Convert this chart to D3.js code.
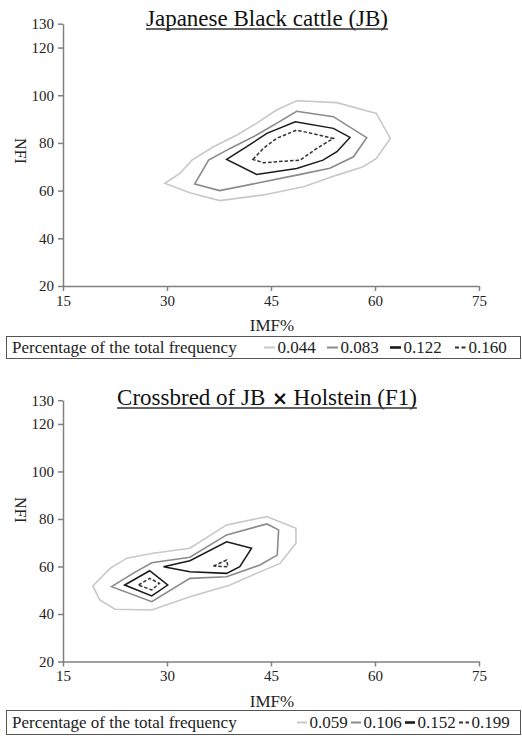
<!DOCTYPE html>
<html><head><meta charset="utf-8">
<script src="https://cdn.jsdelivr.net/npm/d3@7"></script>
<style>
html,body{margin:0;padding:0;background:#fff;}
svg{display:block;font-family:"Liberation Serif","Times New Roman",serif;}
</style></head>
<body><svg id="c" width="522" height="742"></svg>
<script>
// ---------- data ----------
const xTicks = [15, 30, 45, 60, 75];
const yTicks = [20, 40, 60, 80, 100, 120, 130];
const xLabel = "IMF%";
const yLabel = "NFI";
const legendTitle = "Percentage of the total frequency";

const titleJB = ["Japanese Black cattle (JB)"];
const levelsJB = ["0.044", "0.083", "0.122", "0.160"];
const jb_044 = [[29.7,63.1],[31.9,67.3],[33.6,72.8],[36.7,78.4],[40.1,83.3],[42.9,88.2],[45.8,93.8],[48.7,97.7],[54.5,96.9],[60.2,92.4],[62.2,81.9],[60.2,73.5],[58.3,70.0],[54.5,66.5],[49.7,61.6],[43.9,58.2],[37.6,55.8],[33.3,59.1]];
const jb_083 = [[34.0,62.8],[36.0,72.8],[39.1,77.7],[42.9,83.3],[45.8,88.2],[48.7,93.3],[54.0,91.0],[58.8,82.2],[56.9,74.2],[53.5,69.4],[48.7,66.5],[42.9,63.1],[37.6,60.0]];
const jb_122 = [[38.6,73.1],[41.5,78.4],[44.4,84.0],[48.5,88.9],[54.0,86.1],[56.4,82.3],[54.5,76.3],[52.5,72.8],[48.7,69.3],[42.9,66.8]];
const jb_160 = [[42.4,73.1],[43.9,77.7],[45.8,81.9],[48.7,85.4],[54.0,81.9],[51.6,77.7],[49.2,72.8],[43.9,71.7]];

const titleF1 = ["Crossbred of JB", "\u00d7", "Holstein (F1)"];
const levelsF1 = ["0.059", "0.106", "0.152", "0.199"];
const f1_059 = [[19.3,51.8],[21.8,59.2],[24.2,63.5],[28.0,65.6],[33.3,67.7],[38.6,77.5],[44.4,81.0],[48.6,76.1],[48.6,69.8],[46.3,61.3],[42.9,57.1],[39.1,52.2],[33.3,47.3],[27.8,41.7],[22.5,42.0],[20.3,45.9]];
const f1_106 = [[22.0,51.5],[25.1,57.1],[27.8,61.6],[33.3,63.9],[38.6,73.3],[44.4,77.9],[46.1,75.4],[45.9,64.8],[43.4,60.6],[38.6,55.7],[33.3,55.0],[27.8,45.2]];
const f1_152a = [[23.9,52.2],[27.5,58.2],[30.1,52.2],[27.8,47.6]];
const f1_152b = [[29.5,59.9],[33.3,62.4],[38.6,70.4],[42.2,67.7],[40.5,59.9],[38.6,57.1],[33.3,57.8]];
const f1_199a = [[25.9,52.2],[27.5,55.0],[28.9,52.9],[27.8,50.1]];
const f1_199b = [[36.7,60.2],[38.6,62.7],[38.8,59.9]];

// ---------- styles ----------
const FONT = "'Liberation Serif', 'Times New Roman', serif";
const styles = [
  {stroke:"#c8c8c8", width:1.6, dash:null},
  {stroke:"#8a8a8a", width:1.6, dash:null},
  {stroke:"#1a1a1a", width:1.5, dash:null},
  {stroke:"#333333", width:1.5, dash:"3.5,2"}
];

const svg = d3.select("#c");

function panel(opts){
  const g = svg.append("g").attr("font-family", FONT);
  const x = d3.scaleLinear().domain([15,75]).range([63,479]);
  const y = d3.scaleLinear().domain([20,130]).range([opts.y20, opts.y130]);

  // title
  const t = g.append("text").attr("x",267).attr("y",opts.titleY)
    .attr("text-anchor","middle").attr("font-size",23).attr("fill","#111");
  opts.title.forEach((part,i)=>{
    const ts = t.append("tspan").text((i>0?" ":"") + part);
    if (part === "\u00d7") ts.attr("font-family","'DejaVu Sans', sans-serif").attr("font-size",19).attr("font-weight","bold");
  });
  const bb = t.node().getBBox();
  g.append("line").attr("x1",bb.x).attr("x2",bb.x+bb.width)
    .attr("y1",opts.titleY+3).attr("y2",opts.titleY+3)
    .attr("stroke","#333").attr("stroke-width",1.3);

  // axes
  const xa = g.append("g").attr("transform",`translate(0,${opts.y20})`)
    .call(d3.axisBottom(x).tickValues(xTicks).tickSize(5).tickSizeOuter(0).tickPadding(1));
  const ya = g.append("g").attr("transform",`translate(63,0)`)
    .call(d3.axisLeft(y).tickValues(yTicks).tickSize(5).tickSizeOuter(0).tickPadding(4));
  [xa,ya].forEach(a=>{
    a.attr("font-family", FONT).attr("font-size", 15);
    a.selectAll("path,line").attr("stroke","#808080").attr("stroke-width",1.5);
    a.selectAll("text").attr("font-family", FONT).attr("font-size", 15).attr("fill","#222");
  });
  xa.selectAll("text").attr("dy","0.93em");
  ya.selectAll("text").attr("dy","0.32em");

  g.append("text").attr("x",272).attr("y",opts.y20+45).attr("text-anchor","middle")
    .attr("font-size",17).attr("fill","#222").text(xLabel);
  g.append("text").attr("transform",`translate(15,${opts.nfiY}) rotate(90)`)
    .attr("text-anchor","middle").attr("font-size",16).attr("fill","#222").text(yLabel);

  // contours
  const line = d3.line().x(d=>x(d[0])).y(d=>y(d[1])).curve(d3.curveLinearClosed);
  opts.contours.forEach(c=>{
    const s = styles[c.level];
    g.append("path").attr("d",line(c.pts)).attr("fill","none")
      .attr("stroke",s.stroke).attr("stroke-width",s.width)
      .attr("stroke-dasharray",s.dash).attr("stroke-linejoin","miter");
  });

  // legend
  const lg = g.append("g");
  lg.append("rect").attr("x",6.5).attr("y",opts.legY).attr("width",514).attr("height",opts.legH)
    .attr("fill","none").attr("stroke","#555").attr("stroke-width",1);
  const by = opts.legY + opts.legH/2;
  lg.append("text").attr("x",12).attr("y",by+5.5).attr("font-size",17).attr("fill","#222").text(legendTitle);
  opts.levels.forEach((lv,i)=>{
    const s = styles[i];
    const x0 = opts.legX[i];
    lg.append("line").attr("x1",x0).attr("x2",x0+opts.dashW).attr("y1",by).attr("y2",by)
      .attr("stroke",s.stroke).attr("stroke-width", i===2?2.6:2)
      .attr("stroke-dasharray", s.dash?"4,2.5":null);
    lg.append("text").attr("x",x0+opts.dashW+2.5).attr("y",by+5.5).attr("font-size",17).attr("fill","#222").text(lv);
  });
}

panel({title:titleJB, titleY:26, y20:286, y130:23.7, nfiY:151,
  levels:levelsJB, legY:336.5, legH:22, legX:[264,327,390,455], dashW:11,
  contours:[{level:0,pts:jb_044},{level:1,pts:jb_083},{level:2,pts:jb_122},{level:3,pts:jb_160}]});

panel({title:titleF1, titleY:405, y20:661.5, y130:400.2, nfiY:510,
  levels:levelsF1, legY:710.5, legH:24, legX:[297,351,405,459], dashW:10,
  contours:[{level:0,pts:f1_059},{level:1,pts:f1_106},{level:2,pts:f1_152a},{level:2,pts:f1_152b},{level:3,pts:f1_199a},{level:3,pts:f1_199b}]});
</script></body></html>
